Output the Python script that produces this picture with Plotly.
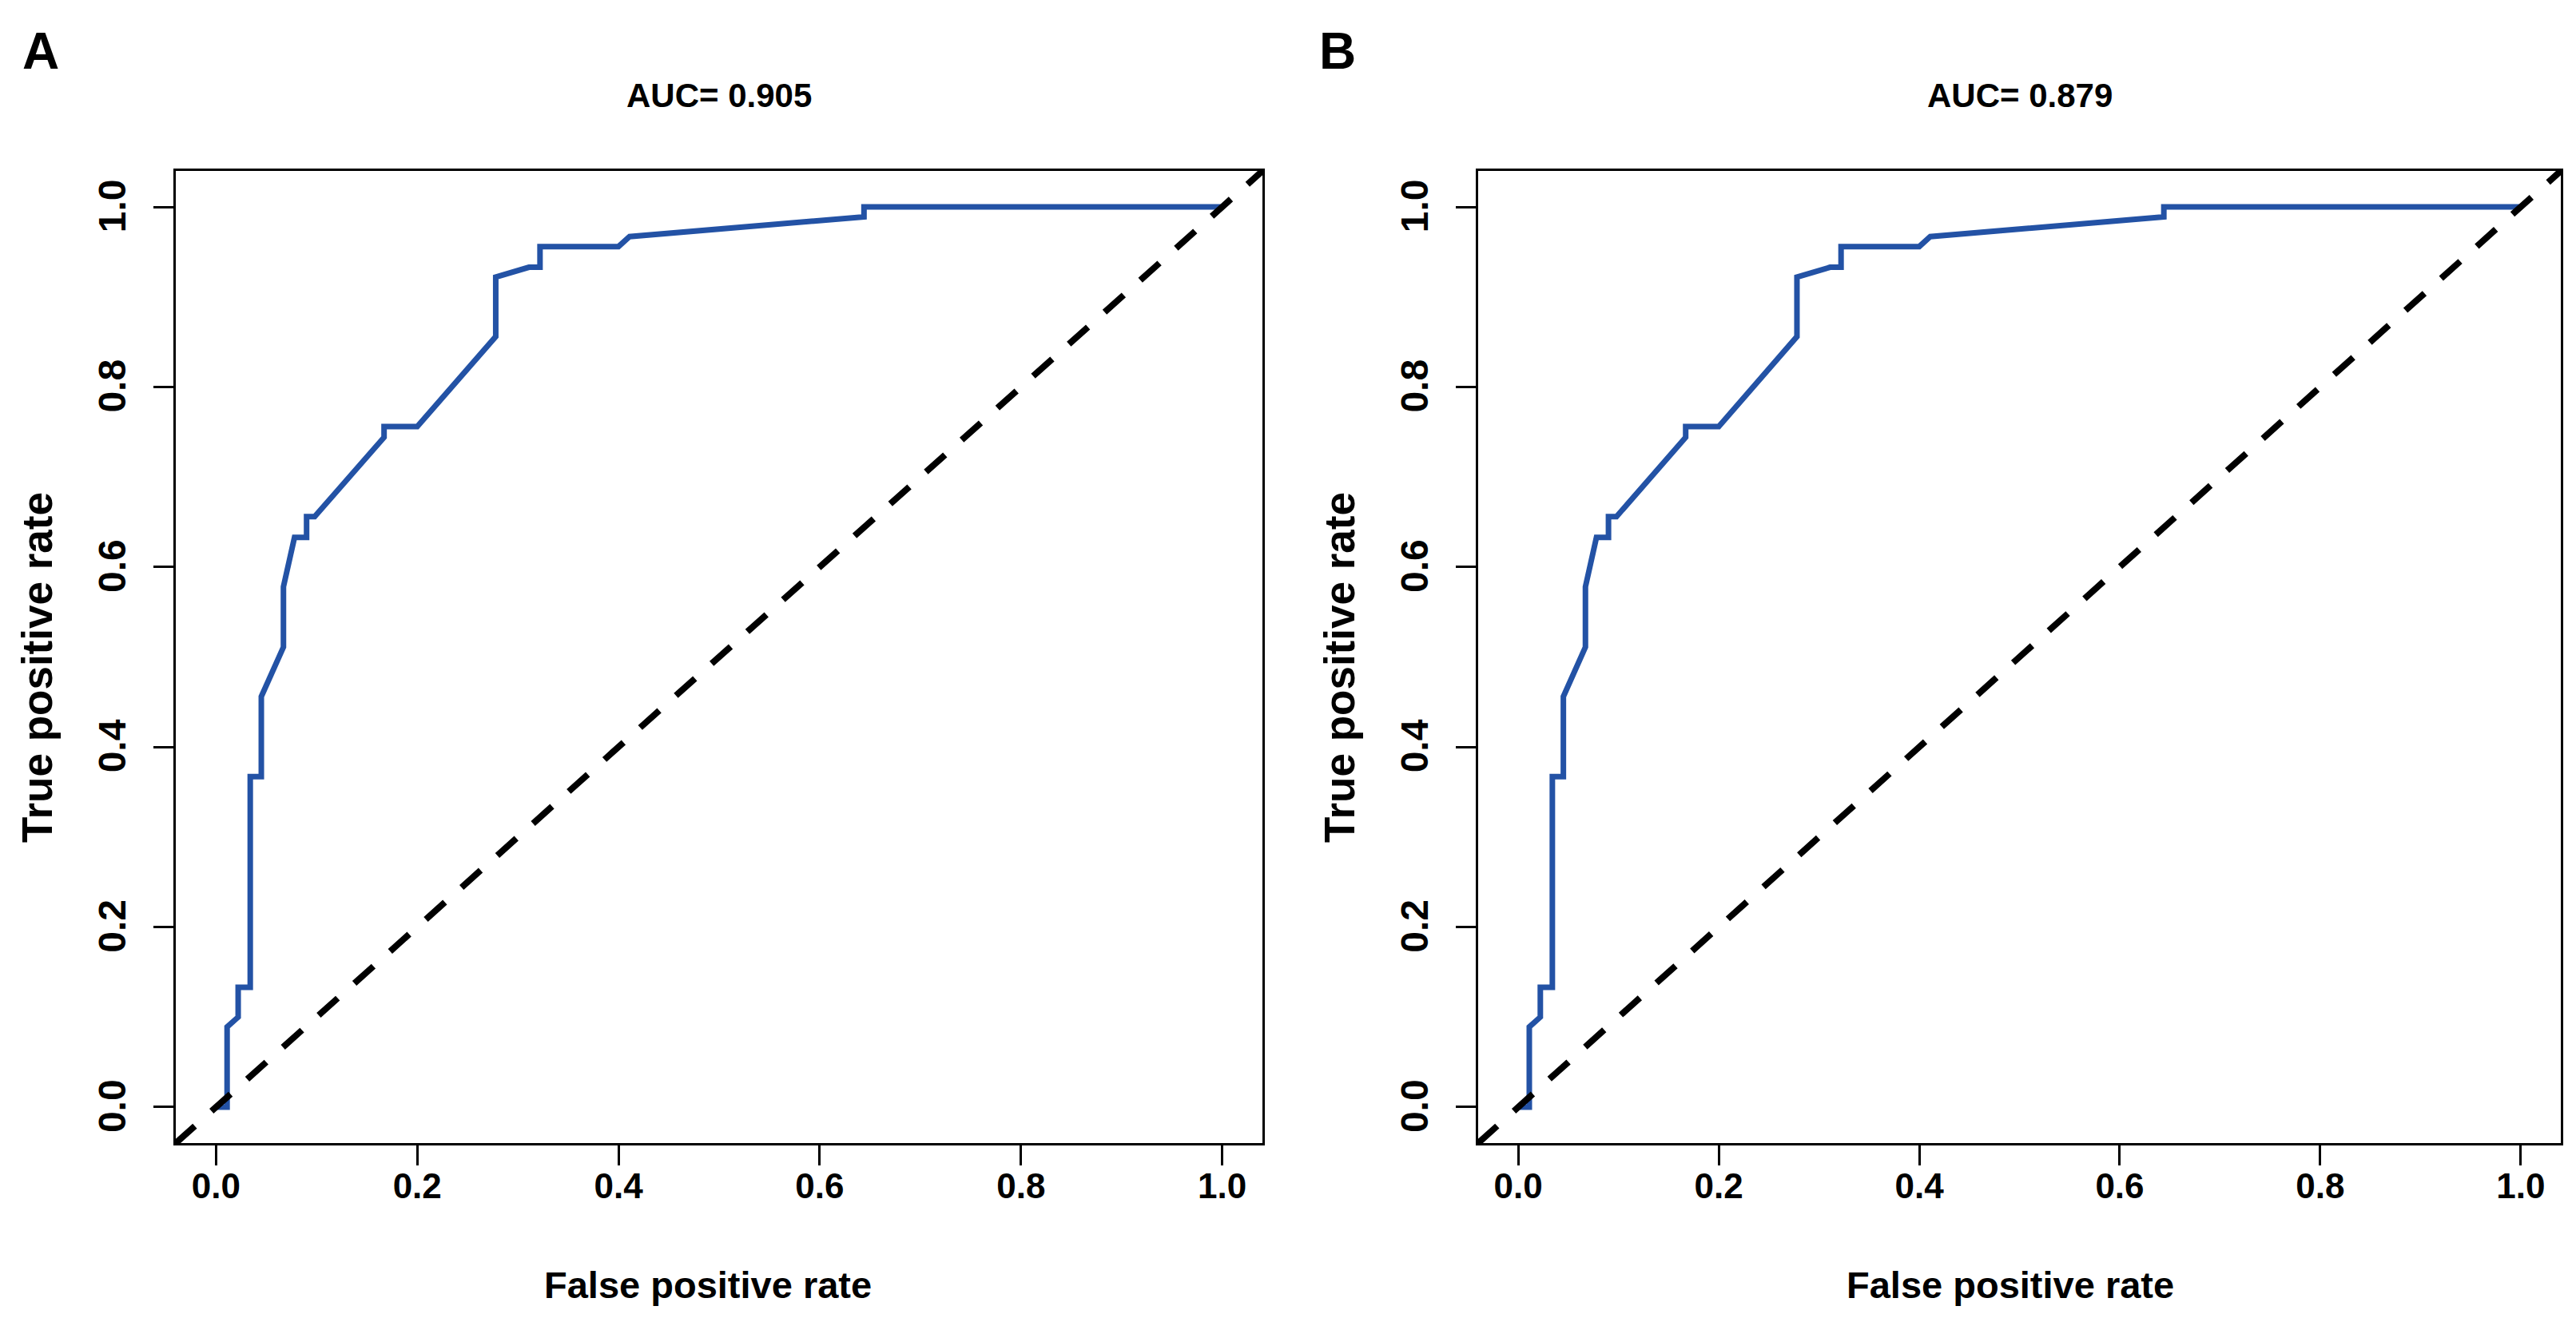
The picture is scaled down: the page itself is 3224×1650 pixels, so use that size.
import plotly.graph_objects as go

# ---- data ----
fpr_a = [0.0, 0.011, 0.011, 0.022, 0.022, 0.034, 0.034, 0.045, 0.045, 0.067, 0.067, 0.078, 0.090, 0.090,
         0.098, 0.167, 0.167, 0.200, 0.278, 0.278, 0.311, 0.322, 0.322, 0.400, 0.411, 0.644, 0.644, 1.0]
tpr_a = [0.0, 0.0, 0.089, 0.100, 0.133, 0.133, 0.367, 0.367, 0.456, 0.511, 0.578, 0.633, 0.633, 0.656,
         0.656, 0.744, 0.756, 0.756, 0.856, 0.922, 0.933, 0.933, 0.956, 0.956, 0.967, 0.989, 1.0, 1.0]
fpr_b = [0.0, 0.011, 0.011, 0.022, 0.022, 0.034, 0.034, 0.045, 0.045, 0.067, 0.067, 0.078, 0.090, 0.090,
         0.098, 0.167, 0.167, 0.200, 0.278, 0.278, 0.311, 0.322, 0.322, 0.400, 0.411, 0.644, 0.644, 1.0]
tpr_b = [0.0, 0.0, 0.089, 0.100, 0.133, 0.133, 0.367, 0.367, 0.456, 0.511, 0.578, 0.633, 0.633, 0.656,
         0.656, 0.744, 0.756, 0.756, 0.856, 0.922, 0.933, 0.933, 0.956, 0.956, 0.967, 0.989, 1.0, 1.0]
titles = ["AUC= 0.905", "AUC= 0.879"]
panel_labels = ["A", "B"]
tick_vals = [0.0, 0.2, 0.4, 0.6, 0.8, 1.0]
tick_text = ["0.0", "0.2", "0.4", "0.6", "0.8", "1.0"]
x_title = "False positive rate"
y_title = "True positive rate"

W, H = 3224, 1650
FONT = "Liberation Sans, Arial, Helvetica, sans-serif"
BLUE = "#2352A5"

fig = go.Figure()
fig.add_trace(go.Scatter(x=fpr_a, y=tpr_a, mode="lines", line=dict(color=BLUE, width=7),
                         xaxis="x", yaxis="y", showlegend=False, hoverinfo="skip"))
fig.add_trace(go.Scatter(x=fpr_b, y=tpr_b, mode="lines", line=dict(color=BLUE, width=7),
                         xaxis="x2", yaxis="y2", showlegend=False, hoverinfo="skip"))

ydom = [1 - 1423 / H, 1 - 206 / H]
xdoms = [[212 / W, 1572 / W], [1842 / W, 3197 / W]]

common = dict(range=[-0.04, 1.04], showline=True, mirror=True, linecolor="black", linewidth=3,
              ticks="outside", ticklen=25, tickwidth=3, tickcolor="black", showgrid=False,
              zeroline=False, tickvals=tick_vals, ticktext=tick_text)
xfont = dict(family=FONT, size=44, color="black", weight="bold")
yfont = dict(family=FONT, size=48, color="black", weight="bold")

fig.update_layout(
    width=W, height=H, margin=dict(l=0, r=0, t=0, b=0),
    paper_bgcolor="white", plot_bgcolor="white",
    xaxis=dict(domain=xdoms[0], anchor="y", ticklabelstandoff=-12, tickfont=xfont, **common),
    yaxis=dict(domain=ydom, anchor="x", tickangle=-90, ticklabelstandoff=16, ticklabelshift=6,
               tickfont=yfont, **common),
    xaxis2=dict(domain=xdoms[1], anchor="y2", ticklabelstandoff=-12, tickfont=xfont, **common),
    yaxis2=dict(domain=ydom, anchor="x2", tickangle=-90, ticklabelstandoff=16, ticklabelshift=6,
                tickfont=yfont, **common),
)

for i, (xr, yr) in enumerate([("x", "y"), ("x2", "y2")]):
    # chance diagonal (y = x) across the whole plot region
    fig.add_shape(type="line", xref=f"{xr} domain", yref=f"{yr} domain", x0=0, y0=0, x1=1, y1=1,
                  line=dict(color="black", width=8, dash="32px,28px"), layer="above")

annots = []
offset = 1630
for i in range(2):
    dx = i * offset
    cx = (xdoms[i][0] + xdoms[i][1]) / 2
    annots.append(dict(text=titles[i], x=cx, y=1 - 112 / H, xref="paper", yref="paper",
                       xanchor="center", yanchor="middle", showarrow=False,
                       font=dict(family=FONT, size=42, color="black", weight="bold")))
    annots.append(dict(text=panel_labels[i], x=(18 + (1641 - 18) * i) / W, y=1 - 56 / H,
                       xref="paper", yref="paper", xanchor="left", yanchor="middle", showarrow=False,
                       font=dict(family=FONT, size=64, color="black", weight="bold")))
    annots.append(dict(text=x_title, x=(878 + dx) / W, y=1 - 1600 / H, xref="paper", yref="paper",
                       xanchor="center", yanchor="middle", showarrow=False,
                       font=dict(family=FONT, size=47, color="black", weight="bold")))
    annots.append(dict(text=y_title, x=(38 + dx) / W, y=1 - 828 / H, xref="paper", yref="paper",
                       xanchor="center", yanchor="middle", showarrow=False, textangle=-90,
                       font=dict(family=FONT, size=53, color="black", weight="bold")))
fig.update_layout(annotations=annots)

fig.write_html("out.html")
